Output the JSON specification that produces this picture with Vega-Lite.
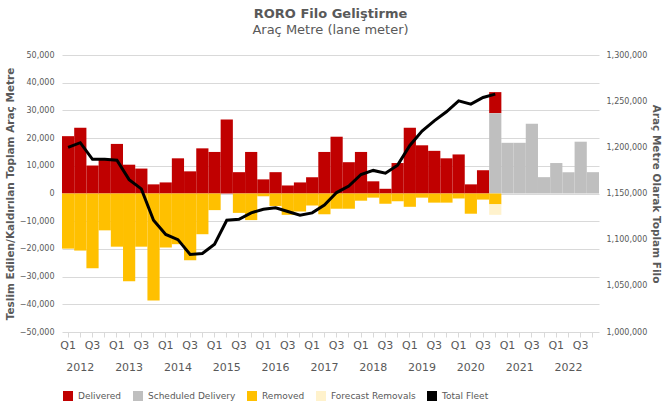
{
  "$schema": "https://vega.github.io/schema/vega-lite/v6.json",
  "width": 537,
  "height": 277,
  "padding": {"top": 8, "left": 5, "right": 5, "bottom": 5},
  "title": {
    "text": "RORO Filo Geliştirme",
    "subtitle": "Araç Metre (lane meter)",
    "font": "DejaVu Sans",
    "fontSize": 13,
    "fontWeight": "bold",
    "color": "#595959",
    "subtitleFont": "DejaVu Sans",
    "subtitleFontSize": 13,
    "subtitleColor": "#595959",
    "offset": 14
  },
  "config": {
    "view": {"stroke": null},
    "axis": {"labelFont": "DejaVu Sans", "labelColor": "#595959", "titleFont": "DejaVu Sans", "titleColor": "#595959"}
  },
  "datasets": {
    "bars": [
      {"q": "2012 Q1", "t": "Delivered", "v": 20700},
      {"q": "2012 Q1", "t": "Removed", "v": -19900},
      {"q": "2012 Q2", "t": "Delivered", "v": 23700},
      {"q": "2012 Q2", "t": "Removed", "v": -20600},
      {"q": "2012 Q3", "t": "Delivered", "v": 10100},
      {"q": "2012 Q3", "t": "Removed", "v": -27000},
      {"q": "2012 Q4", "t": "Delivered", "v": 12200},
      {"q": "2012 Q4", "t": "Removed", "v": -13300},
      {"q": "2013 Q1", "t": "Delivered", "v": 17900},
      {"q": "2013 Q1", "t": "Removed", "v": -19200},
      {"q": "2013 Q2", "t": "Delivered", "v": 10400},
      {"q": "2013 Q2", "t": "Removed", "v": -31700},
      {"q": "2013 Q3", "t": "Delivered", "v": 9000},
      {"q": "2013 Q3", "t": "Removed", "v": -19200},
      {"q": "2013 Q4", "t": "Delivered", "v": 3300},
      {"q": "2013 Q4", "t": "Removed", "v": -38600},
      {"q": "2014 Q1", "t": "Delivered", "v": 4000},
      {"q": "2014 Q1", "t": "Removed", "v": -19500},
      {"q": "2014 Q2", "t": "Delivered", "v": 12700},
      {"q": "2014 Q2", "t": "Removed", "v": -18300},
      {"q": "2014 Q3", "t": "Delivered", "v": 8000},
      {"q": "2014 Q3", "t": "Removed", "v": -24100},
      {"q": "2014 Q4", "t": "Delivered", "v": 16300},
      {"q": "2014 Q4", "t": "Removed", "v": -14700},
      {"q": "2015 Q1", "t": "Delivered", "v": 15000},
      {"q": "2015 Q1", "t": "Removed", "v": -6000},
      {"q": "2015 Q2", "t": "Delivered", "v": 26700},
      {"q": "2015 Q3", "t": "Delivered", "v": 7700},
      {"q": "2015 Q3", "t": "Removed", "v": -7000},
      {"q": "2015 Q4", "t": "Delivered", "v": 15000},
      {"q": "2015 Q4", "t": "Removed", "v": -9600},
      {"q": "2016 Q1", "t": "Delivered", "v": 5100},
      {"q": "2016 Q1", "t": "Removed", "v": -1000},
      {"q": "2016 Q2", "t": "Delivered", "v": 7700},
      {"q": "2016 Q2", "t": "Removed", "v": -4500},
      {"q": "2016 Q3", "t": "Delivered", "v": 2900},
      {"q": "2016 Q3", "t": "Removed", "v": -7700},
      {"q": "2016 Q4", "t": "Delivered", "v": 4000},
      {"q": "2016 Q4", "t": "Removed", "v": -6500},
      {"q": "2017 Q1", "t": "Delivered", "v": 5900},
      {"q": "2017 Q1", "t": "Removed", "v": -4300},
      {"q": "2017 Q2", "t": "Delivered", "v": 15000},
      {"q": "2017 Q2", "t": "Removed", "v": -7500},
      {"q": "2017 Q3", "t": "Delivered", "v": 20500},
      {"q": "2017 Q3", "t": "Removed", "v": -5500},
      {"q": "2017 Q4", "t": "Delivered", "v": 11300},
      {"q": "2017 Q4", "t": "Removed", "v": -5500},
      {"q": "2018 Q1", "t": "Delivered", "v": 15000},
      {"q": "2018 Q1", "t": "Removed", "v": -2600},
      {"q": "2018 Q2", "t": "Delivered", "v": 4400},
      {"q": "2018 Q2", "t": "Removed", "v": -1500},
      {"q": "2018 Q3", "t": "Delivered", "v": 1700},
      {"q": "2018 Q3", "t": "Removed", "v": -3700},
      {"q": "2018 Q4", "t": "Delivered", "v": 11000},
      {"q": "2018 Q4", "t": "Removed", "v": -2800},
      {"q": "2019 Q1", "t": "Delivered", "v": 23700},
      {"q": "2019 Q1", "t": "Removed", "v": -4800},
      {"q": "2019 Q2", "t": "Delivered", "v": 17400},
      {"q": "2019 Q2", "t": "Removed", "v": -1500},
      {"q": "2019 Q3", "t": "Delivered", "v": 15400},
      {"q": "2019 Q3", "t": "Removed", "v": -3300},
      {"q": "2019 Q4", "t": "Delivered", "v": 12700},
      {"q": "2019 Q4", "t": "Removed", "v": -3300},
      {"q": "2020 Q1", "t": "Delivered", "v": 14100},
      {"q": "2020 Q1", "t": "Removed", "v": -1800},
      {"q": "2020 Q2", "t": "Delivered", "v": 3300},
      {"q": "2020 Q2", "t": "Removed", "v": -7300},
      {"q": "2020 Q3", "t": "Delivered", "v": 8400},
      {"q": "2020 Q3", "t": "Removed", "v": -2200},
      {"q": "2020 Q4", "t": "Delivered", "v": 7600},
      {"q": "2020 Q4", "t": "Scheduled Delivery", "v": 29000},
      {"q": "2020 Q4", "t": "Removed", "v": -3900},
      {"q": "2020 Q4", "t": "Forecast Removals", "v": -3800},
      {"q": "2021 Q1", "t": "Scheduled Delivery", "v": 18300},
      {"q": "2021 Q2", "t": "Scheduled Delivery", "v": 18300},
      {"q": "2021 Q3", "t": "Scheduled Delivery", "v": 25200},
      {"q": "2021 Q4", "t": "Scheduled Delivery", "v": 5900},
      {"q": "2022 Q1", "t": "Scheduled Delivery", "v": 11000},
      {"q": "2022 Q2", "t": "Scheduled Delivery", "v": 7700},
      {"q": "2022 Q3", "t": "Scheduled Delivery", "v": 18700},
      {"q": "2022 Q4", "t": "Scheduled Delivery", "v": 7700}
    ],
    "fleet": [
      {"q": "2012 Q1", "fleet": 1200000},
      {"q": "2012 Q2", "fleet": 1205000},
      {"q": "2012 Q3", "fleet": 1187000},
      {"q": "2012 Q4", "fleet": 1187000},
      {"q": "2013 Q1", "fleet": 1186000},
      {"q": "2013 Q2", "fleet": 1165000},
      {"q": "2013 Q3", "fleet": 1155000},
      {"q": "2013 Q4", "fleet": 1121000},
      {"q": "2014 Q1", "fleet": 1105600},
      {"q": "2014 Q2", "fleet": 1100000},
      {"q": "2014 Q3", "fleet": 1084000},
      {"q": "2014 Q4", "fleet": 1085000},
      {"q": "2015 Q1", "fleet": 1095000},
      {"q": "2015 Q2", "fleet": 1121000},
      {"q": "2015 Q3", "fleet": 1122000},
      {"q": "2015 Q4", "fleet": 1129000},
      {"q": "2016 Q1", "fleet": 1133000},
      {"q": "2016 Q2", "fleet": 1134500},
      {"q": "2016 Q3", "fleet": 1130500},
      {"q": "2016 Q4", "fleet": 1126600},
      {"q": "2017 Q1", "fleet": 1129000},
      {"q": "2017 Q2", "fleet": 1137400},
      {"q": "2017 Q3", "fleet": 1151000},
      {"q": "2017 Q4", "fleet": 1158000},
      {"q": "2018 Q1", "fleet": 1170600},
      {"q": "2018 Q2", "fleet": 1175000},
      {"q": "2018 Q3", "fleet": 1172000},
      {"q": "2018 Q4", "fleet": 1180700},
      {"q": "2019 Q1", "fleet": 1202000},
      {"q": "2019 Q2", "fleet": 1217600},
      {"q": "2019 Q3", "fleet": 1228700},
      {"q": "2019 Q4", "fleet": 1238500},
      {"q": "2020 Q1", "fleet": 1250400},
      {"q": "2020 Q2", "fleet": 1246800},
      {"q": "2020 Q3", "fleet": 1254000},
      {"q": "2020 Q4", "fleet": 1257600}
    ]
  },
  "layer": [
    {
      "data": {"name": "bars"},
      "mark": {"type": "bar"},
      "encoding": {
        "x": {
          "field": "q",
          "type": "nominal",
          "scale": {"paddingInner": 0, "paddingOuter": 0},
          "axis": {
            "title": null,
            "domain": false,
            "tickColor": "#d9d9d9",
            "labelAngle": 0,
            "labelFontSize": 11,
            "labelOverlap": false,
            "labelLineHeight": 22,
            "labelExpr": "slice(datum.value, 5) == 'Q1' ? 'Q1' : slice(datum.value, 5) == 'Q3' ? 'Q3' : slice(datum.value, 5) == 'Q2' ? ['', slice(datum.value, 0, 4)] : ''"
          }
        },
        "y": {
          "field": "v",
          "type": "quantitative",
          "scale": {"domain": [-50000, 50000]},
          "axis": {
            "title": "Teslim Edilen/Kaldırılan Toplam Araç Metre",
            "titleFontSize": 10.5,
            "titleFontWeight": "bold",
            "values": [-50000, -40000, -30000, -20000, -10000, 0, 10000, 20000, 30000, 40000, 50000],
            "labelFontSize": 8,
            "labelPadding": 8,
            "ticks": false,
            "domain": false,
            "gridColor": "#d9d9d9"
          }
        },
        "color": {
          "field": "t",
          "type": "nominal",
          "scale": {
            "domain": ["Delivered", "Scheduled Delivery", "Removed", "Forecast Removals", "Total Fleet"],
            "range": ["#c00000", "#bfbfbf", "#ffc000", "#fff2cc", "#000000"]
          },
          "legend": {
            "orient": "bottom",
            "title": null,
            "labelFont": "DejaVu Sans",
            "labelFontSize": 9,
            "labelColor": "#595959",
            "columnPadding": 10
          }
        }
      }
    },
    {
      "data": {"name": "fleet"},
      "mark": {"type": "line", "color": "#000000", "strokeWidth": 3},
      "encoding": {
        "x": {"field": "q", "type": "nominal"},
        "y": {
          "field": "fleet",
          "type": "quantitative",
          "scale": {"domain": [1000000, 1300000], "zero": false},
          "axis": {
            "orient": "right",
            "title": "Araç Metre Olarak Toplam Filo",
            "titleFontSize": 10.5,
            "titleFontWeight": "bold",
            "values": [1000000, 1050000, 1100000, 1150000, 1200000, 1250000, 1300000],
            "labelFontSize": 8,
            "labelPadding": 7,
            "ticks": false,
            "domain": false,
            "grid": false
          }
        }
      }
    }
  ],
  "resolve": {"scale": {"y": "independent"}}
}
